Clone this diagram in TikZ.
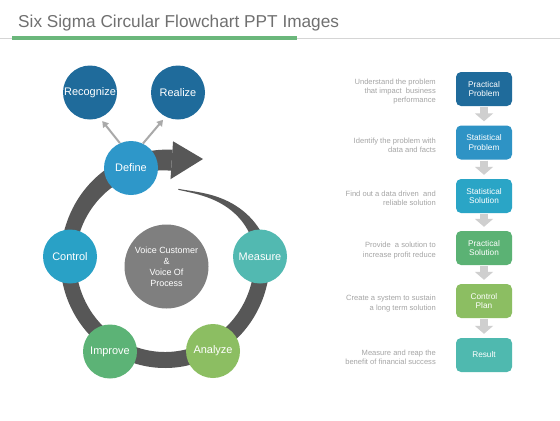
\documentclass[tikz,border=0pt]{standalone}
\usepackage{fontspec}
\setmainfont{Liberation Sans}
\usetikzlibrary{arrows.meta,calc}
\definecolor{titlegray}{HTML}{707070}
\definecolor{rulegray}{HTML}{D5D5D5}
\definecolor{rulegreen}{HTML}{6BB77B}
\definecolor{ringc}{HTML}{575757}
\definecolor{darkblue}{HTML}{1F6B9B}
\definecolor{defblue}{HTML}{2E97C9}
\definecolor{ctrlblue}{HTML}{29A1C6}
\definecolor{measteal}{HTML}{52B9B1}
\definecolor{anagreen}{HTML}{8CBE62}
\definecolor{impgreen}{HTML}{5CB376}
\definecolor{centgray}{HTML}{7F7F7F}
\definecolor{conngray}{HTML}{A9A9A9}
\definecolor{notegray}{HTML}{A5A5A5}
\definecolor{arrgray}{HTML}{CFCFCF}
\definecolor{spblue}{HTML}{2E93C5}
\definecolor{ssblue}{HTML}{2AA5C6}
\definecolor{psgreen}{HTML}{5BB274}
\definecolor{resteal}{HTML}{4FB9AF}
\begin{document}
\begin{tikzpicture}[x=1bp,y=-1bp,
  declare function={ringta(\a)=min(max((\a-281)/79,0),1);
                    ringtb(\a)=min(max((\a-560)/74,0),1);
                    ringr(\a)=72+28*(3*ringta(\a)^2-2*ringta(\a)^3);
                    ringw(\a)=1+15*ringta(\a)*sqrt(ringta(\a))+5*ringtb(\a);
                    ringo(\a)=ringr(\a)+0.5*ringw(\a);
                    ringi(\a)=ringr(\a)-0.5*ringw(\a);},
  circ/.style={circle, minimum size=54bp, inner sep=0pt, text=white,
               font=\fontsize{11}{13}\selectfont},
  boxnode/.style={rounded corners=5bp, minimum width=56bp, minimum height=34bp,
               inner sep=0pt, text=white, align=center,
               font=\fontsize{8.3}{9.3}\selectfont},
  note/.style={anchor=east, align=right, text=notegray, inner sep=0pt,
               font=\fontsize{7.6}{9.3}\selectfont},
  conn/.style={draw=conngray, line width=2bp,
               -{Triangle[length=6bp,width=7bp]}, shorten >=4bp},
  boxarr/.style={draw=arrgray, line width=8bp,
               -{Triangle[length=8bp,width=18bp]}}]
\useasboundingbox (0,0) rectangle (560,420);
\fill[white] (0,0) rectangle (560,420);

% title
\node[anchor=base west, inner sep=0pt, text=titlegray,
      font=\fontsize{17.3}{20}\selectfont] (title) at (18,27.7)
      {Six Sigma Circular Flowchart PPT Images};
\draw[rulegray, line width=1bp] (0,38.3) -- (560,38.3);
\draw[rulegreen, line width=4bp] (12,38.3) -- (297,38.3);

% spiral ring
\fill[ringc] plot[domain=281:634, samples=240]
   ({165+0.97*ringo(\x)*cos(\x)},{260+ringo(\x)*sin(\x)})
   -- plot[domain=634:281, samples=240]
   ({165+0.97*ringi(\x)*cos(\x)},{260+ringi(\x)*sin(\x)}) -- cycle;
\fill[ringc] ({165+0.97*81*cos(274)},{260+81*sin(274)})
   -- ({165+0.97*119*cos(274)},{260+119*sin(274)}) -- (203,159) -- cycle;

% circles
\node[circ, fill=darkblue] (rec) at (90,92.5) {Recognize};
\node[circ, fill=darkblue] (rea) at (178,92.5) {Realize};
\node[circ, fill=defblue] (def) at (131,168) {Define};
\node[circ, fill=ctrlblue] (ctl) at (70,256.5) {Control};
\node[circ, fill=measteal] (mea) at (260,256.5) {Measure};
\node[circ, fill=impgreen] (imp) at (110,351.5) {Improve};
\node[circ, fill=anagreen] (ana) at (213,351) {Analyze};
\node[circle, minimum size=84bp, inner sep=0pt, fill=centgray, text=white,
      align=center, font=\fontsize{9}{11}\selectfont] (vc) at (166.5,266.5)
      {Voice Customer\\\&\\Voice Of\\Process};

\draw[conn] (def.114) -- (rec.-69);
\draw[conn] (def.64) -- (rea.-117);

% right column
\node[boxnode, fill=darkblue] (b1) at (484,89) {Practical\\Problem};
\node[boxnode, fill=spblue] (b2) at (484,142.5) {Statistical\\Problem};
\node[boxnode, fill=ssblue] (b3) at (484,196) {Statistical\\Solution};
\node[boxnode, fill=psgreen] (b4) at (484,248) {Practical\\Solution};
\node[boxnode, fill=anagreen] (b5) at (484,301) {Control\\Plan};
\node[boxnode, fill=resteal] (b6) at (484,355) {Result};

\draw[boxarr] ([yshift=-1bp]b1.south) -- ([yshift=4bp]b2.north);
\draw[boxarr] ([yshift=-1bp]b2.south) -- ([yshift=4bp]b3.north);
\draw[boxarr] ([yshift=-1bp]b3.south) -- ([yshift=4bp]b4.north);
\draw[boxarr] ([yshift=-1bp]b4.south) -- ([yshift=4bp]b5.north);
\draw[boxarr] ([yshift=-1bp]b5.south) -- ([yshift=4bp]b6.north);

\node[note] (n1) at (436,91.5) {Understand the problem\\that impact\ \ business\\performance};
\node[note] (n2) at (436,145) {Identify the problem with\\data and facts};
\node[note] (n3) at (436,198.5) {Find out a data driven\ \ and\\reliable solution};
\node[note] (n4) at (436,250.5) {Provide\ \ a solution to\\increase profit reduce};
\node[note] (n5) at (436,303.5) {Create a system to sustain\\a long term solution};
\node[note] (n6) at (436,357.5) {Measure and reap the\\benefit of financial success};
\end{tikzpicture}
\end{document}
